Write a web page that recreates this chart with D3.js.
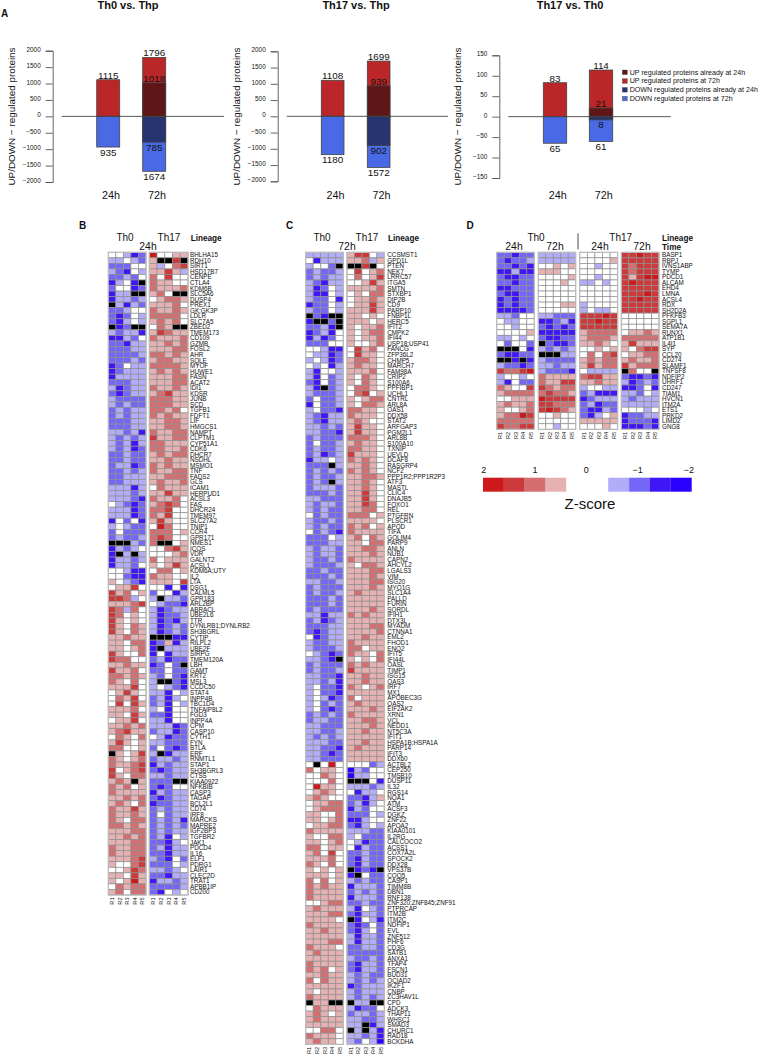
<!DOCTYPE html>
<html>
<head>
<meta charset="utf-8">
<script src="https://cdn.jsdelivr.net/npm/d3@7"></script>
<style>
  html, body { margin: 0; padding: 0; background: #fff; }
  text { font-family: "Liberation Sans", Helvetica, Arial, sans-serif; fill: #111; }
</style>
</head>
<body>
<div id="chart"></div>
<script>
// bar values: [24h, 72h, overlap at 72h]
const barTitles = ["Th0 vs. Thp", "Th17 vs. Thp", "Th17 vs. Th0"];
const upValues = [[1115, 1796, 1018], [1108, 1699, 939], [83, 114, 21]];
const downValues = [[935, 1674, 785], [1180, 1572, 902], [65, 61, 8]];
const bigTicks = [2000, 1500, 1000, 500, 0, -500, -1000, -1500, -2000];
const smallTicks = [150, 100, 50, 0, -50, -100, -150];
const legendLabels = ["UP regulated proteins already at 24h", "UP regulated proteins at 72h",
  "DOWN regulated proteins already at 24h", "DOWN regulated proteins at 72h"];

const replicates = ["R1", "R2", "R3", "R4", "R5"];

// heatmap cells, one string per protein: 0 white, 1-4 red light to dark, a-d blue light to dark, x missing
const genesB = ["BHLHA15","RDH10","SIRT1","HSD17B7","CENPE","CTLA4","KDM6B","SLC5A6","DUSP4","PREX1","GK;GK3P","LDLR","SLC7A5","ZBED2","TMEM173","CD109","GZMB","FOSL2","AHR","SQLE","MYOF","HUWE1","FASN","ACAT2","IDI1","KDSR","JUNB","SCD","TGFB1","FDFT1","LIF","HMGCS1","NAMPT","CLPTM1","CYP51A1","CDK6","DHCR7","NSDHL","MSMO1","TNF","FADS2","GLS","ICAM1","HERPUD1","ACSL3","FAS","DHCR24","TMEM97","SLC27A2","TNIP1","CCR4","GPR171","NMES1","ICOS","VDR","GALNT2","ACSL1","KDM6A;UTY","IL2","LTA","DSG1","CALML5","GPR183","ARL2BP","ABRACL","UBE2L6","TTR","DYNLRB1;DYNLRB2","SH3BGRL","CYTIP","RILPL2","UBE2F","SIRPG","TMEM120A","LBH","GAMT","KRT2","MSL3","CCDC50","STAT4","INPP4B","TBC1D4","TNFAIP8L2","FGD3","INPP4A","CPM","CASP10","CYTH1","FYN","BTLA","ERF","RNMTL1","STAP1","SH3BGRL3","CTSS","KIAA0922","NFKBIB","CASP3","TAGAP","BCL2L1","CD74","IRF8","MARCKS","MAPRE2","IGF2BP3","TGFBR2","JAK1","PDCD4","IL16","ELF1","PDRG1","LAIR1","CLEC2D","TRAT1","APBB1IP","CD200"];
const cellsB = ["00acb40011","aa0ab1xx3x","bbb001a023","abc0a1131a","bbab020300","ca0cx21100","b00cb21112","caaxx120xx","caaba01221","xacab11120",
"bba0021121","bcb0a22220","bca0a12120","xcbxx021xx","abaac13211","ccab021112","bbcaa11212","bbbaa11122","bbbba22121","bbbab12211",
"cb0aa22221","cbaaa12121","caaaa11122","bbbaa11122","acbaa21121","bcbaa12311","abbbb22211","ababb22211","babaa22120","babaa21211",
"bbbaa11221","bbbaa11221","aabac21122","ababa31122","abaca22111","abacb22112","bbabb12122","bbabb11211","baacb21211","bbaba21122",
"bbaaa11222","bbaaa12112","aaaca02111","aaaba11311","aaabc21120","0abcb12320","aaacb22300","aaacb21300","c0b0c13100","a0abb04200",
"b0bbb22201","babba23200","xxxab2xx01","caba000231","cxaxa00012","caaba20111","caab010131","00acc02201","00bcc21100","10abc11103",
"0113000c0c","31201b00ca","332a0axaab","111230abbc","32a20acbaa","32010acbba","31010acbca","31021acbab","31021acbab","11211xxxcc",
"11022cb1ca","11012cxaaa","31002c0caa","32200bacbb","11211cb0bx","31120bb0bb","22121ab0bc","21020axxbc","11130a0abc","01310aac0a",
"02130baca0","03031bac0a","11120a0c00","11031bbc00","01130aac00","11212aaacb","12311baacb","021020acbb","13101aabbb","22001b0bcb",
"x1013axcaa","21012baaba","21123cabaa","30123bcbaa","31022aabaa","121x1bbbxx","21201bcb00","21111cabaa","11212bcbaa","12102cbbaa",
"21131babaa","21121b0baa","21022babac","22121babab","11122babaa","11212bac0a","11122bbca0","21122bacaa","21122bbcaa","11123abc0b",
"10023bbb0a","00132aaba0","11031bbcaa","10141caaba","02122bbbba","12022bc0a0"];

const genesC = ["CCSMST1","GPD1L","PTEN","NEK7","LRRC57","ITGA5","SMTN","STXBP1","DIP2B","CD9","PARP10","FNBP1L","HERC5","IFIT2","CMPK2","IFI44","USP18;USP41","FANCG","ZFP36L2","CHMP5","MARCH7","FAM98A","CRIP2","S100A6","PPFIBP1","UCHL1","CNTRL","ARL8A","OAS1","DDX58","STAT2","ARFGAP3","PGM2L1","ARL8B","S100A10","TXNIP","UEVLD","DCAF8","RASGRP4","NCF2","PPP1R2;PPP1R2P3","ATF3","MASTL","CLIC4","DNAJB5","FOXO1","REL","PTGFRN","PLSCR1","APOD","TIFA","GOLIM4","PARP9","ANLN","NUB1","CAPN2","AHCYL2","LGALS3","VIM","ISG20","MYO1G","SLC1A4","PALLD","FURIN","SORDL","IFIH1","DTX3L","MYADM","CTNNA1","EML2","FHOD1","ENO2","IFIT5","IFI44L","OASL","TIMP1","ISG15","OAS3","IRF7","MX1","APOBEC3G","OAS2","EIF2AK2","XRN1","VCL","NEDD1","NT5C3A","IFIT1","HSPA1B;HSPA1A","PARP14","IFIT3","DDX60","ACTBL2","CEP250","TMSB10","DUSP11","IL32","RGS14","NQA1","ATM","ACSF3","DGKZ","ZNF22","APOA2","KIAA0101","IL2RG","CALCOCO2","ACSS1","COX7A2L","SPOCK2","DDX28","VPS37B","COQ5","CASP1","TIMM8B","DBN1","RNF138","ZNF320;ZNF845;ZNF91","PTPRCAP","ITM2B","ITM2C","NDFIP1","EVL","ZNF512","PHF6","CD3G","SATB1","ANXA1","TFAP4","FSCN1","BUD31","OCIAD2","IKZF1","CNBP","ZC3HAV1L","CPD","ADCK3","THAP11","WHSC1","SMAD3","CHURC1","RAD18","BCKDHA"];
const cellsC = ["aaaaa1330a","0caaa112a1","a00bxxx3x0","babba03012","babaa02013","abcaa00131","acb0a11112","acc0a01022","abb0c01121","cbb0a01131",
"abb0a11131","xbcxx11010","cxxbx11101","bbacx10112","cbac010122","cacb010112","bbb0010012","00acc03120","0aacb03110","a0acb12210",
"0a0ca12110","ac00a11120","ac0ba10210","bc0ba10210","acxba02210","abbba02301","b0bba10122","c0bba10221","a0bbc22110","abcaa21110",
"abcaa12100","aabab13110","aabbc13110","babbb22210","b0bba12110","babba22110","bacba31110","caa0a21210","bbbxa11210","babab21210",
"babba11221","babxa11210","baaab11210","bbbab11310","aabbb11310","abaab11320","ababb11220","0babb22201","abbab11110","ababb21201",
"0babc21111","bbb0a12021","bbbaa11022","abaab11221","abaab11121","abbab21111","abbba10221","bbabb11122","bbbab11121","aabba11122",
"babbb11121","babba12111","bbbab11111","bbbab11111","babbb11121","aacaa21211","bacba11111","bbbaa11122","bcbaa11112","0cbaa11211",
"abbaa21111","abbba22011","0abcb21102","aabcx10102","babbb21211","babba31111","aabbc11211","aabac11211","a0bbc21012","a0bbc11111",
"a0acb20111","a0bab12111","a0bcb11121","babab21111","baabb11221","aabbb11121","aabba11211","ababa11111","aaabb11211","aabbc12111",
"aabcb11111","aabbb11111","0x040000ba","20110dab00","00210daa00","00020xxx0c","04110aaaba","012100caa0","12100bbca1","01122baca0",
"01222cab00","11002bbb0a","11012cca00","01122bca0a","21111aaabb","10022a0bbb","110120acbb","220110cabb","12030bbabb","11120bcabb",
"21020bcabb","10101xcbcx","11101cx0bb","20201ababb","21211caaab","21111babab","21111caaab","00122bbabb","12111ac0ab","11122bcaab",
"11110xc0ac","21111bcb0b","11211bca0b","11111acaab","11122acaab","21110bbaab","12111bbbbb","11111abbab","21111bcaab","21201bcaab",
"11211ababb","20211ababa","11111cbaaa","10111abaaa","21111ababa","x11xxxaaxx","02111acbb0","12101baaba","12111aabba","11111aaxca",
"00220xaxac","21110aabac","12110ab0ad"];

const genesD = ["BASP1","RBPJ","IVNS1ABP","TYMP","PDCD1","ALCAM","EHD4","LMNA","ACSL4","RDX","SH2D2A","PFKFB3","SGPL1","SEMA7A","RUNX1","ATP1B1","IL4I1","SYP","CCL20","CD274","SLAMF1","TNFSF8","NDFIP2","UHRF1","CD247","TIAM1","HVCN1","ITM2A","ETS1","PRKD2","LIMD2","GNG8"];
const cellsD = ["bbcbbaaaaa0000033433","bcbbaaaaaa0000133333","bbcbc0010100a0032333","ccacc111000000032333","bccbb0000100a0031344","bbcbb00010aa0a034333","ccbbb000000000033333","bccbb000000000033343","cbcbb000000000033433","cbcbb00011a000033333","ccccb00000a0aa033333",
"aab00aabbb3334300000","0aa00ccbac3343300000","00a00bcbcb3333300000","00001ccccc1222201121","aa0a0bccbb1222122222","0b00bxbccb1121013111","xxx0cababa0010110233","bccbbxxxaa0202301122","xxcxcabbbb1212212112","abbcbaabaa1312231222",
"32234abbbc0aaaax200x","a00a02111123311bccbc","ac0bb2113311211acbab","2100332122a00aaccb0c","1222223221bacccaab0a","0011143333cbaaaabaaa","1211233222bacbbaaaaa","1001234321bccab000a0","1224300100bca01cbbaa","222220000011111cbbbc","3223300a0000010cccbc"];

const cellColor = d3.scaleOrdinal()
  .domain(["4", "3", "2", "1", "0", "a", "b", "c", "d", "x"])
  .range(["#cc1a1c", "#cc3a3b", "#d56e70", "#e6b1b2", "#ffffff", "#b3acf9", "#7467f8", "#3f17f6", "#2a00ff", "#000000"]);

const width = 759, height = 1055;

let svg = d3.select("#chart").append("svg")
  .attr("width", width)
  .attr("height", height)
  .style("display", "block");

// START panel A
const barPanels = [
  { axisX: 52.7, yTop: 50.7, yBottom: 182, ticks: bigTicks, x24: 96.7, x72: 142.7, barW: 23, lineFrom: 61.7, lineTo: 224, labelX: 11, titleX: 128 },
  { axisX: 277.7, yTop: 51.3, yBottom: 181.3, ticks: bigTicks, x24: 321.3, x72: 367.3, barW: 22.7, lineFrom: 286.7, lineTo: 448, labelX: 236, titleX: 356 },
  { axisX: 499.3, yTop: 55.3, yBottom: 178, ticks: smallTicks, x24: 543.3, x72: 589.3, barW: 23.4, lineFrom: 508.3, lineTo: 670.7, labelX: 457, titleX: 570 }
];

function fmtTick(d) { return d < 0 ? "\u2212" + Math.abs(d) : d; }

function drawBars(p, i) {
  const g = svg.append("g");
  const y = d3.scaleLinear().domain([p.ticks[p.ticks.length - 1], p.ticks[0]]).range([p.yBottom, p.yTop]);
  const axis = g.append("g")
    .attr("transform", `translate(${p.axisX},0)`)
    .call(d3.axisLeft(y).tickValues(p.ticks).tickSize(7).tickPadding(5).tickFormat(fmtTick));
  axis.selectAll("path,line").attr("stroke", "#555").attr("stroke-width", 0.9);
  axis.selectAll("text").attr("font-size", 6.4).attr("dy", "0.1em").attr("fill", "#333");

  g.append("text")
    .attr("transform", `translate(${p.labelX + 3.5},116.5) rotate(-90)`)
    .attr("text-anchor", "middle")
    .attr("font-size", 9.9)
    .text("UP/DOWN \u2212 regulated proteins");

  g.append("text").attr("x", p.titleX).attr("y", 8.5)
    .attr("text-anchor", "middle").attr("font-size", 11).attr("font-weight", "bold")
    .text(barTitles[i]);

  const up = upValues[i], down = downValues[i];
  const rows = [
    { x: p.x24, from: y(up[0]), to: y(0), fill: "#bb2729" },
    { x: p.x72, from: y(up[1]), to: y(0), fill: "#bb2729" },
    { x: p.x72, from: y(up[2]), to: y(0), fill: "#5e1617" },
    { x: p.x24, from: y(0), to: y(-down[0]), fill: "#4a6ae5" },
    { x: p.x72, from: y(0), to: y(-down[1]), fill: "#4a6ae5" },
    { x: p.x72, from: y(0), to: y(-down[2]), fill: "#27346f" }
  ];
  g.selectAll(".bar").data(rows).enter().append("rect")
    .attr("class", "bar")
    .attr("x", d => d.x)
    .attr("y", d => d.from)
    .attr("width", p.barW)
    .attr("height", d => d.to - d.from)
    .attr("fill", d => d.fill)
    .attr("stroke", "#444")
    .attr("stroke-width", 0.8);

  g.append("line")
    .attr("x1", p.lineFrom).attr("x2", p.lineTo)
    .attr("y1", y(0)).attr("y2", y(0))
    .attr("stroke", "#444").attr("stroke-width", 0.9);

  // value labels sit above the up bars and below the down bars
  const labels = [
    { x: p.x24, v: up[0], yy: y(up[0]) - 1 },
    { x: p.x72, v: up[1], yy: y(up[1]) - 1 },
    { x: p.x72, v: up[2], yy: y(up[2]) - 1 },
    { x: p.x24, v: down[0], yy: y(-down[0]) + 8.5 },
    { x: p.x72, v: down[1], yy: y(-down[1]) + 8.5 },
    { x: p.x72, v: down[2], yy: y(-down[2]) + 8.5 }
  ];
  g.selectAll(".val").data(labels).enter().append("text")
    .attr("class", "val")
    .attr("x", d => d.x + p.barW / 2)
    .attr("y", d => d.yy)
    .attr("text-anchor", "middle")
    .attr("font-size", 9.9)
    .text(d => d.v);

  g.selectAll(".time").data([["24h", p.x24], ["72h", p.x72]]).enter().append("text")
    .attr("class", "time")
    .attr("x", d => d[1] + p.barW / 2 + 2.8)
    .attr("y", 199)
    .attr("text-anchor", "middle")
    .attr("font-size", 10.8)
    .text(d => d[0]);
}
barPanels.forEach(drawBars);

svg.append("text").attr("x", 1).attr("y", 17).attr("font-size", 10).attr("font-weight", "bold").text("A");

const legendY = d3.scaleBand().domain(legendLabels).range([68, 103]);
const legendFill = d3.scaleOrdinal().domain(legendLabels).range(["#5e1617", "#bb2729", "#27346f", "#4a6ae5"]);
let legend = svg.selectAll(".legendRow").data(legendLabels).enter().append("g").attr("class", "legendRow");
legend.append("rect")
  .attr("x", 622.3)
  .attr("y", d => legendY(d) + 2)
  .attr("width", 5)
  .attr("height", 4.6)
  .attr("fill", d => legendFill(d))
  .attr("stroke", "#555")
  .attr("stroke-width", 0.4);
legend.append("text")
  .attr("x", 629.7)
  .attr("y", d => legendY(d) + 6.6)
  .attr("font-size", 7.1)
  .attr("fill", "#333")
  .text(d => d);
// END panel A

// START heatmaps
function drawBlock(rows, genes, from, count, xFrom, xTo, yTop, yBottom) {
  const y = d3.scaleBand().domain(genes).range([yTop, yBottom]);
  const x = d3.scaleBand().domain(replicates).range([xFrom, xTo]);
  const g = svg.append("g");

  rows.forEach((row, r) => {
    g.selectAll(null).data(row.slice(from, from + count).split("")).enter().append("rect")
      .attr("x", (d, j) => x(replicates[j]))
      .attr("y", y(genes[r]))
      .attr("width", x.bandwidth())
      .attr("height", y.bandwidth())
      .attr("fill", d => cellColor(d))
      .attr("stroke", "#8f8f8f")
      .attr("stroke-width", 0.7);
  });

  g.append("rect")
    .attr("x", xFrom).attr("y", yTop)
    .attr("width", xTo - xFrom).attr("height", yBottom - yTop)
    .attr("fill", "none").attr("stroke", "#bdbdbd").attr("stroke-width", 1.2);

  // R labels hang below the block, read bottom to top
  g.selectAll(".rep").data(replicates).enter().append("text")
    .attr("class", "rep")
    .attr("transform", d => `translate(${x(d) + x.bandwidth() / 2 + 2},${yBottom + 2.5}) rotate(-90)`)
    .attr("text-anchor", "end")
    .attr("font-size", 5.6)
    .attr("fill", "#333")
    .text(d => d);
}

function geneLabels(genes, labelX, yTop, yBottom) {
  const y = d3.scaleBand().domain(genes).range([yTop, yBottom]);
  svg.selectAll(null).data(genes).enter().append("text")
    .attr("x", labelX)
    .attr("y", d => y(d) + y.bandwidth() / 2 + 2.2)
    .attr("font-size", 6.3)
    .text(d => d);
}

function headText(txt, x, y, size, bold, anchor) {
  svg.append("text").attr("x", x).attr("y", y)
    .attr("font-size", size)
    .attr("font-weight", bold ? "bold" : "normal")
    .attr("text-anchor", anchor || "middle")
    .text(txt);
}

const topY = 252.3;

// panel B
drawBlock(cellsB, genesB, 0, 5, 108.3, 146, topY, 895);
drawBlock(cellsB, genesB, 5, 5, 149.3, 188, topY, 895);
geneLabels(genesB, 190, topY, 895);
headText("B", 82.7, 229, 10, true);
headText("Th0", 125, 241, 10);
headText("Th17", 169, 241, 10);
headText("24h", 148, 250, 10.4);
headText("Lineage", 190.7, 241, 8.2, true, "start");

// panel C
drawBlock(cellsC, genesC, 0, 5, 305.7, 343.3, topY, 1044.3);
drawBlock(cellsC, genesC, 5, 5, 347, 384.3, topY, 1044.3);
geneLabels(genesC, 387.3, topY, 1044.3);
headText("C", 289.5, 229, 10, true);
headText("Th0", 322, 241, 10);
headText("Th17", 367, 241, 10);
headText("72h", 347, 250, 10.4);
headText("Lineage", 388, 241, 8.2, true, "start");

// panel D
drawBlock(cellsD, genesD, 0, 5, 496.7, 534.3, topY, 429.3);
drawBlock(cellsD, genesD, 5, 5, 538.3, 575.7, topY, 429.3);
drawBlock(cellsD, genesD, 10, 5, 579.7, 617.7, topY, 429.3);
drawBlock(cellsD, genesD, 15, 5, 621.3, 659, topY, 429.3);
geneLabels(genesD, 662, topY, 429.3);
headText("D", 470, 229, 10, true);
headText("Th0", 536, 240.7, 10);
headText("Th17", 620.7, 240.7, 10);
headText("24h", 514, 250, 10.4);
headText("72h", 555, 250, 10.4);
headText("24h", 600, 250, 10.4);
headText("72h", 642, 250, 10.4);
headText("Lineage", 662, 241, 8.2, true, "start");
headText("Time", 662, 250, 8.2, true, "start");
svg.append("line").attr("x1", 578).attr("x2", 578).attr("y1", 233.3).attr("y2", 249.3)
  .attr("stroke", "#333").attr("stroke-width", 0.9);
// END heatmaps

// START z-score key
const keyLevels = ["4", "3", "2", "1", "0", "0", "a", "b", "c", "d"];
const keyTicks = [2, 1, 0, -1, -2];
const keyBand = d3.scaleBand().domain(d3.range(keyLevels.length)).range([483, 691.7]);
svg.selectAll(".key").data(keyLevels).enter().append("rect")
  .attr("class", "key")
  .attr("x", (d, i) => keyBand(i))
  .attr("y", 477.7)
  .attr("width", keyBand.bandwidth())
  .attr("height", 14)
  .attr("fill", d => cellColor(d));
const keyX = d3.scaleLinear().domain([2, -2]).range([483.7, 689]);
svg.selectAll(".keyTick").data(keyTicks).enter().append("text")
  .attr("class", "keyTick")
  .attr("x", d => keyX(d))
  .attr("y", 472.7)
  .attr("text-anchor", "middle")
  .attr("font-size", 9)
  .text(fmtTick);
headText("Z-score", 590, 509, 15);
// END z-score key
</script>
</body>
</html>
